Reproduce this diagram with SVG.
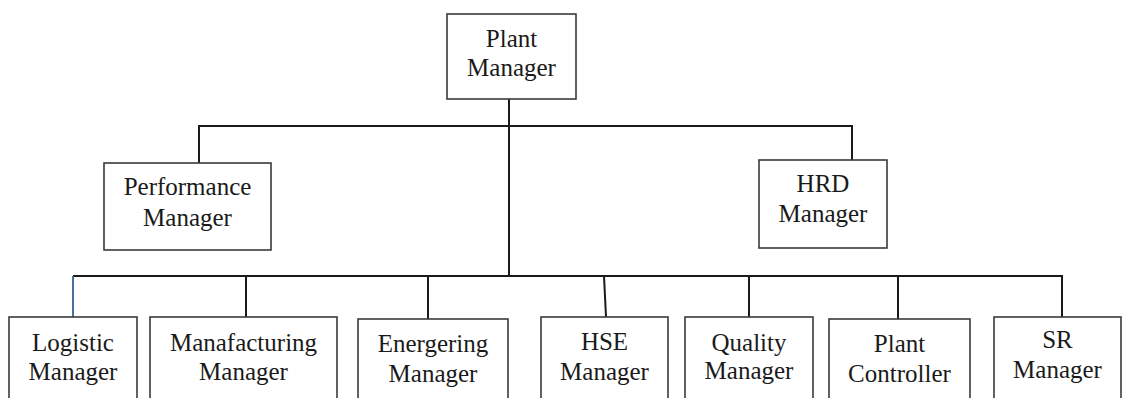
<svg xmlns="http://www.w3.org/2000/svg" width="1122" height="398" viewBox="0 0 1122 398">
<style>
.box{fill:#fff;stroke:#3a3a3a;stroke-width:1.6}
.t{font-family:"Liberation Serif","Times New Roman",serif;font-size:25px;fill:#1a1a1a;text-anchor:middle}
.ln{fill:none;stroke:#1a1a1a;stroke-width:2}
</style>
<rect width="1122" height="398" fill="#fff"/>
<g id="connectors">
<path class="ln" d="M509 99V276"/>
<path class="ln" d="M199 163V126H852V160"/>
<path class="ln" d="M73 276H1062V319"/>
<path d="M73 276V317" fill="none" stroke="#4a6f98" stroke-width="2"/>
<path class="ln" d="M246 276V317"/>
<path class="ln" d="M428 276V319"/>
<path class="ln" d="M604 276L606 317"/>
<path class="ln" d="M749 276V317"/>
<path class="ln" d="M898 276V319"/>
</g>
<g id="plant-manager">
<rect class="box" x="447" y="14" width="129" height="85"/>
<text class="t" x="511.5" y="47">Plant</text>
<text class="t" x="511.5" y="76">Manager</text>
</g>
<g id="performance-manager">
<rect class="box" x="104" y="163" width="167" height="87"/>
<text class="t" x="187.5" y="195">Performance</text>
<text class="t" x="187.5" y="226">Manager</text>
</g>
<g id="hrd-manager">
<rect class="box" x="759" y="160" width="128" height="88"/>
<text class="t" x="823" y="192">HRD</text>
<text class="t" x="823" y="222">Manager</text>
</g>
<g id="logistic-manager">
<rect class="box" x="9" y="317" width="128" height="95"/>
<text class="t" x="73" y="351">Logistic</text>
<text class="t" x="73" y="380">Manager</text>
</g>
<g id="manafacturing-manager">
<rect class="box" x="150" y="317" width="187" height="95"/>
<text class="t" x="243.5" y="351">Manafacturing</text>
<text class="t" x="243.5" y="380">Manager</text>
</g>
<g id="energering-manager">
<rect class="box" x="358" y="319" width="150" height="95"/>
<text class="t" x="433" y="352">Energering</text>
<text class="t" x="433" y="382">Manager</text>
</g>
<g id="hse-manager">
<rect class="box" x="541" y="317" width="127" height="95"/>
<text class="t" x="604.5" y="350">HSE</text>
<text class="t" x="604.5" y="380">Manager</text>
</g>
<g id="quality-manager">
<rect class="box" x="685" y="317" width="128" height="95"/>
<text class="t" x="749" y="351">Quality</text>
<text class="t" x="749" y="379">Manager</text>
</g>
<g id="plant-controller">
<rect class="box" x="829" y="319" width="141" height="95"/>
<text class="t" x="899.5" y="352">Plant</text>
<text class="t" x="899.5" y="382">Controller</text>
</g>
<g id="sr-manager">
<rect class="box" x="994" y="317" width="127" height="95"/>
<text class="t" x="1057.5" y="348">SR</text>
<text class="t" x="1057.5" y="378">Manager</text>
</g>
</svg>
